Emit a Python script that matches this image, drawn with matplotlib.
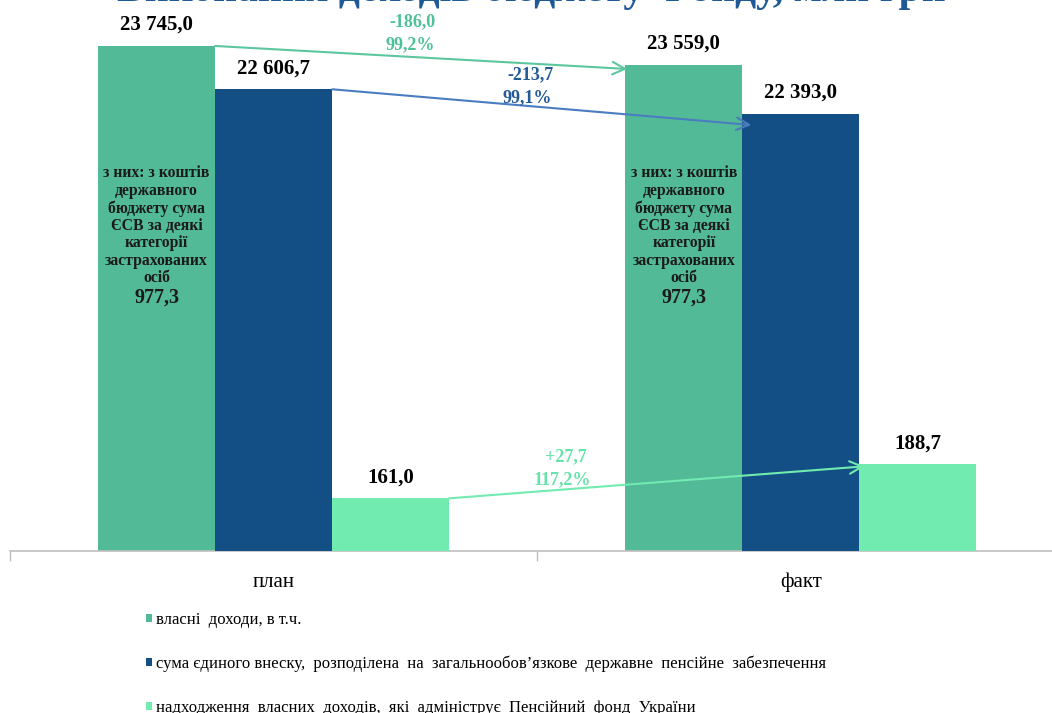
import matplotlib
matplotlib.use("Agg")
from matplotlib import pyplot as plt
from matplotlib.transforms import offset_copy
import numpy as np

# categories and series
categories = ["план", "факт"]
own_income = [23745.0, 23559.0]          # власні доходи, в т.ч.
esv_pension = [22606.7, 22393.0]         # сума єдиного внеску ...
pfu_income = [161.0, 188.7]              # надходження власних доходів ...
state_budget_part = [977.3, 977.3]       # з них: з коштів державного бюджету

series_names = [
    "власні  доходи, в т.ч.",
    "сума єдиного внеску,  розподілена  на  загальнообов’язкове  державне  пенсійне  забезпечення",
    "надходження  власних  доходів,  які  адмініструє  Пенсійний  фонд  України",
]
diff_labels = [("-186,0", "99,2%"), ("-213,7", "99,1%"), ("+27,7", "117,2%")]

c_green = "#52BA96"
c_blue = "#134E84"
c_light = "#72EBB0"

plt.rcParams['font.family'] = ['Liberation Serif', 'DejaVu Serif']

W, H = 1052, 713
fig = plt.figure(figsize=(W / 100, H / 100), dpi=100)

def px(x, y):
    return x / W, 1 - y / H

base_y = 550.5
ax = fig.add_axes([10 / W, (H - base_y) / H, 1054.5 / W, base_y / H])
ax2 = ax.twinx()
ax3 = ax.twinx()

x = np.arange(len(categories))
w = 0.222
b1 = ax.bar(x - w, own_income, w, color=c_green, zorder=2)
b2 = ax2.bar(x, esv_pension, w, color=c_blue, zorder=2)
b3 = ax3.bar(x + w, pfu_income, w, color=c_light, zorder=2)

# each series is drawn on its own (non-zero based) scale, as in the original
ax.set_ylim(18806, 24195)
ax2.set_ylim(18617, 23379)
ax3.set_ylim(118.5, 567.0)
ax.set_xlim(-0.5, 1.5)

for a in (ax, ax2, ax3):
    for s in ("top", "right", "left"):
        a.spines[s].set_visible(False)
    a.set_yticks([])
    a.spines["bottom"].set_color("#BFBFBF")
    a.spines["bottom"].set_linewidth(1.2)
ax2.spines["bottom"].set_visible(False)
ax3.spines["bottom"].set_visible(False)

ax.set_xticks([-0.5, 0.5, 1.5])
ax.set_xticklabels([])
ax.set_xticks(x, minor=True)
ax.set_xticklabels(categories, minor=True, fontsize=15)
ax.tick_params(axis="x", which="major", length=7, color="#BFBFBF", width=1)
ax.tick_params(axis="x", which="minor", length=0, pad=16)

def fmt(v):
    s = f"{v:,.1f}".replace(",", " ").replace(".", ",")
    return s

for a, bars, vals in ((ax, b1, own_income), (ax2, b2, esv_pension), (ax3, b3, pfu_income)):
    for bar, v in zip(bars, vals):
        a.annotate(fmt(v), (bar.get_x() + bar.get_width() / 2, v), xytext=(0, 21),
                   textcoords="offset pixels", ha="center", va="center",
                   fontsize=15, fontweight="bold", color="black", zorder=5)

# text inside the green bars
inner = "з них: з коштів\nдержавного\nбюджету сума\nЄСВ за деякі\nкатегорії\nзастрахованих\nосіб"
for xi, part in zip(x, state_budget_part):
    ax.text(xi - w, 0.70, inner, transform=ax.get_xaxis_transform(), ha="center", va="top",
            fontsize=11.3, fontweight="bold", linespacing=1.12, color="#1a1a1a", zorder=5)
    ax.text(xi - w, 0.459, fmt(part), transform=ax.get_xaxis_transform(), ha="center",
            va="center", fontsize=14.5, fontweight="bold", color="#1a1a1a", zorder=5)

# arrows between plan and fact
arrow_specs = [
    (ax, own_income, -w, "#5CC79E", (2, -4), "#4DC296", [(412, 22), (410, 45)]),
    (ax2, esv_pension, 0, "#4A7CC0", (9, -11), "#245A96", [(530, 75), (527, 98)]),
    (ax3, pfu_income, w, "#72EBB0", (5, -2), "#66E3A8", [(566, 457), (562, 480)]),
]
for (a, vals, off, col, end_off, tcol, tpos), labels in zip(arrow_specs, diff_labels):
    start = (x[0] + off + w / 2, vals[0])
    end = (x[1] + off - w / 2, vals[1])
    end_tr = offset_copy(a.transData, fig=fig, x=end_off[0], y=end_off[1], units="dots")
    a.annotate("", xy=end, xycoords=end_tr, xytext=start, textcoords="data",
               arrowprops=dict(arrowstyle="->,head_length=0.9,head_width=0.45", color=col,
                               lw=1.5, shrinkA=0, shrinkB=0), zorder=4)
    for lbl, (tx, ty) in zip(labels, tpos):
        fig.text(*px(tx, ty), lbl, ha="center", va="center", fontsize=13,
                 fontweight="bold", color=tcol)

# title (cut off by the top edge in the original)
fig.text(0.505, 1 - 1 / H, "Виконання доходів бюджету Фонду, млн грн", ha="center",
         va="baseline", fontsize=30, fontweight="bold", color="#1F5A96")

fig.legend([b1, b2, b3], series_names, loc="upper left", bbox_to_anchor=px(139, 605),
           frameon=False, fontsize=12, handlelength=0.4, handleheight=0.4,
           handletextpad=0.2, labelspacing=1.68, borderaxespad=0)

fig.savefig("out.png", dpi=100)
